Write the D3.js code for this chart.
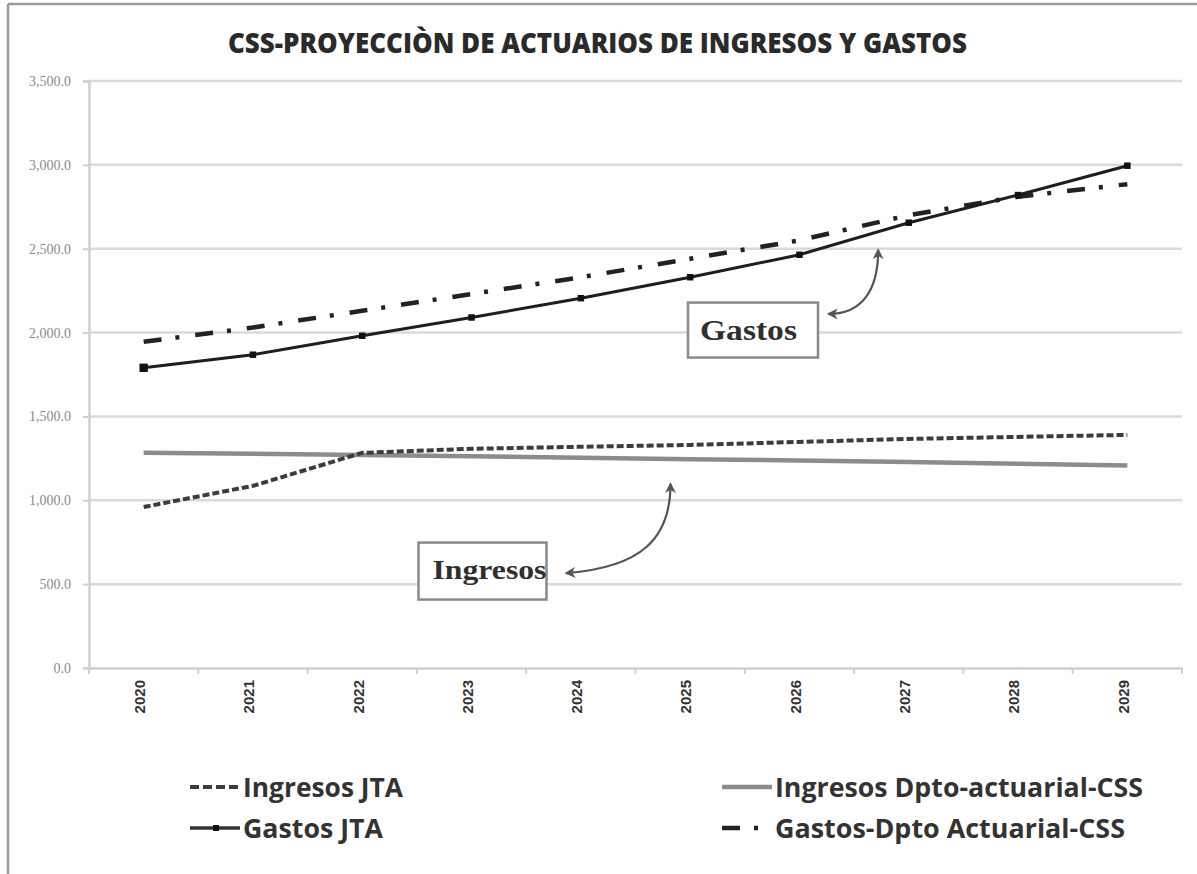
<!DOCTYPE html>
<html>
<head>
<meta charset="utf-8">
<script src="https://cdn.jsdelivr.net/npm/d3@7"></script>
<style>
  html, body { margin: 0; padding: 0; background: #fff; }
  svg { display: block; }
</style>
</head>
<body>
<div id="chart"></div>
<script>
const title = 'CSS-PROYECCIÒN DE ACTUARIOS DE INGRESOS Y GASTOS';
const years = [2020, 2021, 2022, 2023, 2024, 2025, 2026, 2027, 2028, 2029];
const ingresosJTA  = [960, 1086, 1283, 1307, 1319, 1330, 1348, 1366, 1378, 1390];
const ingresosDpto = [1283, 1278, 1270, 1262, 1254, 1245, 1237, 1228, 1218, 1208];
const gastosJTA    = [1790, 1868, 1981, 2090, 2205, 2330, 2464, 2655, 2820, 2995];
const gastosDpto   = [1945, 2030, 2130, 2230, 2330, 2440, 2550, 2700, 2810, 2885];
const yTicks = [0, 500, 1000, 1500, 2000, 2500, 3000, 3500];
const legendLabels = ['Ingresos JTA', 'Ingresos Dpto-actuarial-CSS', 'Gastos JTA', 'Gastos-Dpto Actuarial-CSS'];
const noteLabels = ['Gastos', 'Ingresos'];

const W = 1197, H = 874;
const plot = {left: 89, right: 1182, top: 81, bottom: 668};

const svg = d3.select('#chart').append('svg').attr('width', W).attr('height', H);

// outer frame (only top and left edges are visible)
svg.append('line').attr('x1', 8).attr('x2', W).attr('y1', 4).attr('y2', 4)
  .attr('stroke', '#9a9a9a').attr('stroke-width', 2.5);
svg.append('line').attr('x1', 8).attr('x2', 8).attr('y1', 4).attr('y2', H)
  .attr('stroke', '#9a9a9a').attr('stroke-width', 2.5);

svg.append('text').attr('x', 228).attr('y', 53)
  .attr('textLength', 739).attr('lengthAdjust', 'spacingAndGlyphs')
  .attr('font-family', 'Open Sans, sans-serif').attr('font-weight', 800)
  .attr('font-size', 28).attr('fill', '#2a2a2a').text(title);

const x = d3.scaleBand().domain(years).range([plot.left, plot.right]).paddingInner(0).paddingOuter(0);
const cx = d => x(d) + x.bandwidth() / 2;
// fractional category position, for annotations
const xi = i => plot.left + x.bandwidth() / 2 + i * x.bandwidth();
const y = d3.scaleLinear().domain([0, 3500]).range([plot.bottom, plot.top]);

// grid
svg.append('g').selectAll('line').data(yTicks.slice(1)).join('line')
  .attr('x1', plot.left).attr('x2', plot.right)
  .attr('y1', d => y(d)).attr('y2', d => y(d))
  .attr('stroke', '#dadada').attr('stroke-width', 2.5);

// y axis
const yAxis = svg.append('g').attr('transform', `translate(${plot.left},0)`)
  .call(d3.axisLeft(y).tickValues(yTicks).tickFormat(d3.format(',.1f')).tickSize(6).tickPadding(12));
yAxis.select('.domain').attr('stroke', '#d0d0d0').attr('stroke-width', 2.5);
yAxis.selectAll('.tick line').attr('stroke', '#d0d0d0').attr('stroke-width', 2);
yAxis.selectAll('.tick text').attr('font-family', 'Liberation Serif, serif')
  .attr('font-size', 14).attr('fill', '#8a8a8a');

// x axis
const xAxis = svg.append('g').attr('transform', `translate(0,${plot.bottom})`)
  .call(d3.axisBottom(x).tickSize(0).tickPadding(0));
xAxis.select('.domain').attr('stroke', '#cfcfcf').attr('stroke-width', 2.5);
xAxis.selectAll('.tick text')
  .attr('transform', 'rotate(-90)').attr('text-anchor', 'end')
  .attr('x', -12).attr('y', -4).attr('dy', '0.35em')
  .attr('font-family', 'Liberation Sans, Arial, sans-serif').attr('font-weight', 700)
  .attr('font-size', 15).attr('fill', '#333');
xAxis.selectAll('line.bound').data(years.concat([null])).join('line')
  .attr('class', 'bound')
  .attr('x1', d => d == null ? plot.right : x(d)).attr('x2', d => d == null ? plot.right : x(d))
  .attr('y1', 0).attr('y2', 6).attr('stroke', '#cfcfcf').attr('stroke-width', 2);

const line = d3.line().x((d, i) => cx(years[i])).y(d => y(d));

const series = svg.append('g');
series.append('path').datum(ingresosDpto).attr('d', line)
  .attr('fill', 'none').attr('stroke', '#8c8c8c').attr('stroke-width', 4.5);
series.append('path').datum(ingresosJTA).attr('d', line)
  .attr('fill', 'none').attr('stroke', '#3c3c3c').attr('stroke-width', 4)
  .attr('stroke-dasharray', '7,3');
series.append('path').datum(gastosDpto).attr('d', line)
  .attr('fill', 'none').attr('stroke', '#222').attr('stroke-width', 4.5)
  .attr('stroke-dasharray', '18,14,4,16');
series.append('path').datum(gastosJTA).attr('d', line)
  .attr('fill', 'none').attr('stroke', '#1e1e1e').attr('stroke-width', 3);
series.selectAll('path.mk').data(gastosJTA).join('path')
  .attr('class', 'mk')
  .attr('transform', (d, i) => `translate(${cx(years[i])},${y(d)})`)
  .attr('d', (d, i) => d3.symbol(d3.symbolSquare, i === 0 ? 70 : 42)())
  .attr('fill', '#111');

// annotations
svg.append('defs').append('marker').attr('id', 'ah')
  .attr('viewBox', '0 0 10 10').attr('refX', 8).attr('refY', 5)
  .attr('markerWidth', 5).attr('markerHeight', 5).attr('orient', 'auto-start-reverse')
  .append('path').attr('d', 'M0,0L10,5L0,10L3,5Z').attr('fill', '#555');

const notes = [
  {label: noteLabels[0], i: 5.575, v: 2015, w: 130, h: 55, fs: 29, tl: 97, dx: 12, dy: 10,
   arrow: [[6.27, 2111], [6.58, 2111], [6.72, 2260], [6.72, 2490]]},
  {label: noteLabels[1], i: 3.1, v: 578, w: 128, h: 57, fs: 28, tl: 114, dx: 14, dy: 8,
   arrow: [[3.87, 566], [4.55, 600], [4.82, 770], [4.82, 1095]]}
];
const nG = svg.append('g');
notes.forEach(n => {
  const px = xi(n.i), py = y(n.v);
  nG.append('rect').attr('x', px - n.w / 2).attr('y', py - n.h / 2)
    .attr('width', n.w).attr('height', n.h)
    .attr('fill', '#fff').attr('stroke', '#8a8a8a').attr('stroke-width', 2.5);
  nG.append('text')
    .attr('x', px - n.w / 2 + n.dx).attr('y', py + n.dy)
    .attr('textLength', n.tl).attr('lengthAdjust', 'spacingAndGlyphs')
    .attr('font-family', 'Liberation Serif, Times New Roman, serif').attr('font-weight', 700)
    .attr('font-size', n.fs).attr('fill', '#2f2f2f').text(n.label);
  const p = n.arrow.map(a => [xi(a[0]), y(a[1])]);
  nG.append('path')
    .attr('d', `M${p[0]}C${p[1]} ${p[2]} ${p[3]}`)
    .attr('fill', 'none').attr('stroke', '#555').attr('stroke-width', 2.2)
    .attr('marker-start', 'url(#ah)').attr('marker-end', 'url(#ah)');
});

// legend
const legend = [
  {label: legendLabels[0], x: 190, y: 797, w: 160, kind: 'ingJTA'},
  {label: legendLabels[1], x: 722, y: 797, w: 368, kind: 'ingDpto'},
  {label: legendLabels[2], x: 190, y: 838, w: 140, kind: 'gasJTA'},
  {label: legendLabels[3], x: 722, y: 838, w: 350, kind: 'gasDpto'}
];
const lg = svg.append('g');
legend.forEach(l => {
  const ly = l.y - 10;
  if (l.kind === 'ingJTA') {
    lg.append('line').attr('x1', l.x).attr('x2', l.x + 50).attr('y1', ly).attr('y2', ly)
      .attr('stroke', '#3c3c3c').attr('stroke-width', 4).attr('stroke-dasharray', '9,4');
  } else if (l.kind === 'ingDpto') {
    lg.append('line').attr('x1', l.x).attr('x2', l.x + 50).attr('y1', ly).attr('y2', ly)
      .attr('stroke', '#8c8c8c').attr('stroke-width', 4.5);
  } else if (l.kind === 'gasJTA') {
    lg.append('line').attr('x1', l.x).attr('x2', l.x + 50).attr('y1', ly).attr('y2', ly)
      .attr('stroke', '#333').attr('stroke-width', 3.5);
    lg.append('path').attr('transform', `translate(${l.x + 26},${ly})`)
      .attr('d', d3.symbol(d3.symbolSquare, 36)()).attr('fill', '#111');
  } else {
    lg.append('line').attr('x1', l.x).attr('x2', l.x + 50).attr('y1', ly).attr('y2', ly)
      .attr('stroke', '#222').attr('stroke-width', 4.5).attr('stroke-dasharray', '18,14,4,16');
  }
  lg.append('text').attr('x', l.x + 53).attr('y', l.y)
    .attr('textLength', l.w).attr('lengthAdjust', 'spacingAndGlyphs')
    .attr('font-family', 'Open Sans, sans-serif').attr('font-weight', 700)
    .attr('font-size', 27).attr('fill', '#333').text(l.label);
});
</script>
</body>
</html>
